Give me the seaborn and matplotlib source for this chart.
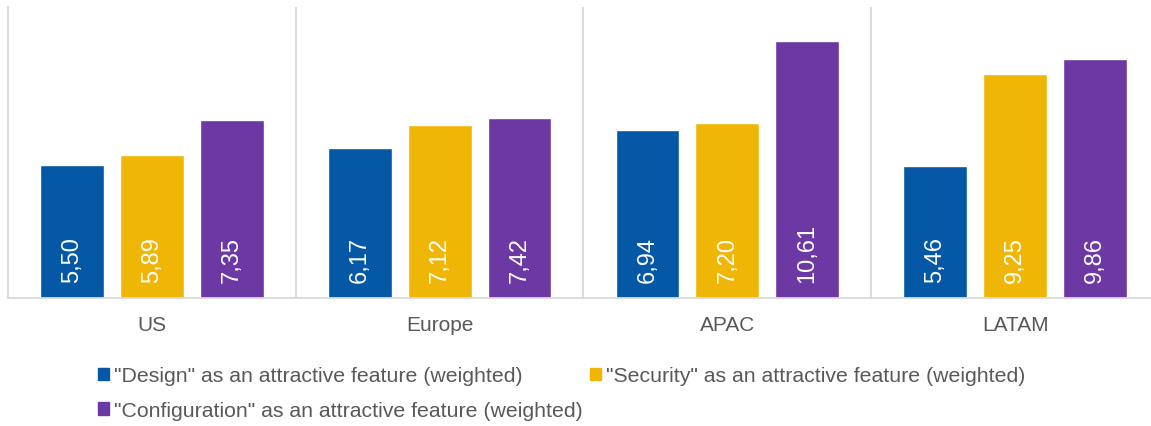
import seaborn as sns
import matplotlib.pyplot as plt
import matplotlib.patches as mpatches
import pandas as pd

regions = ["US", "Europe", "APAC", "LATAM"]
series = [
    '"Design" as an attractive feature (weighted)',
    '"Security" as an attractive feature (weighted)',
    '"Configuration" as an attractive feature (weighted)',
]
design = [5.50, 6.17, 6.94, 5.46]
security = [5.89, 7.12, 7.20, 9.25]
configuration = [7.35, 7.42, 10.61, 9.86]
colors = ["#0458A6", "#F0B606", "#6C38A4"]

rows = []
for name, vals in zip(series, [design, security, configuration]):
    for r, v in zip(regions, vals):
        rows.append({"region": r, "series": name, "value": v})
df = pd.DataFrame(rows)

sns.set_style("white")
plt.rcParams['font.family'] = ['Liberation Sans', 'DejaVu Sans']

fig = plt.figure(figsize=(11.51, 4.27), dpi=100)
ax = fig.add_axes([8 / 1151, 1 - 299 / 427, 1 - 8 / 1151, (299 - 8) / 427])

sns.barplot(data=df, x="region", y="value", hue="series", palette=colors,
            width=0.833, gap=0.2, ax=ax, legend=False, saturation=1)

# value labels inside the bars
for cont in ax.containers:
    for bar in cont:
        v = bar.get_height()
        ax.annotate(f"{v:.2f}".replace(".", ","),
                    xy=(bar.get_x() + bar.get_width() / 2, 0),
                    xytext=(0, 11.5), textcoords="offset points",
                    rotation=90, ha="center", va="bottom",
                    color="white", fontsize=17)

ax.set_ylim(0, 12)
ax.set_xlim(-0.5, 3.5 - 8 / 288)
ax.set_yticks([])
ax.set_xlabel("")
ax.set_ylabel("")
for x in [0.5, 1.5, 2.5]:
    ax.axvline(x, color="#D9D9D9", lw=1.3, zorder=0)
for s in ["top", "right"]:
    ax.spines[s].set_visible(False)
for s in ["left", "bottom"]:
    ax.spines[s].set_color("#D9D9D9")
    ax.spines[s].set_linewidth(1.3)
ax.tick_params(axis="x", length=0, pad=12, labelsize=15, labelcolor="#595959")

# legend, row-major order
handles = [mpatches.Patch(color=c, label=l) for c, l in zip(colors, series)]
order = [0, 2, 1]
fig.legend([handles[i] for i in order], [series[i] for i in order],
           ncol=2, loc="upper left", bbox_to_anchor=(79 / 1151, 1 - 348 / 427),
           frameon=False, fontsize=15.3, handlelength=0.5, handleheight=0.5,
           handletextpad=0.25, columnspacing=0.35, labelspacing=0.75,
           labelcolor="#595959")

plt.savefig("out.png", dpi=100)
